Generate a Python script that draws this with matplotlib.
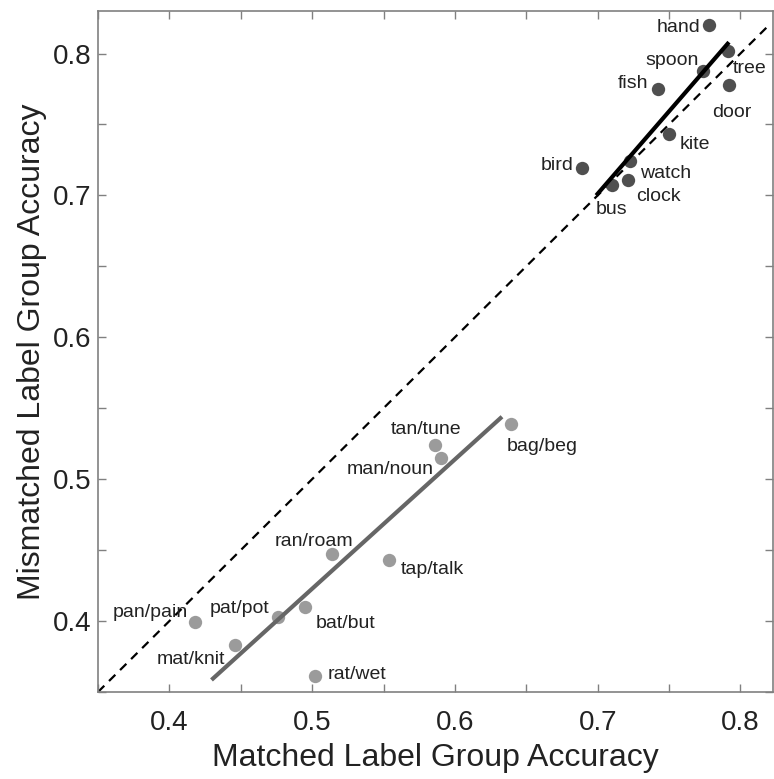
import matplotlib
matplotlib.use("Agg")
import matplotlib.pyplot as plt
from matplotlib.ticker import MultipleLocator

plt.rcParams['font.family'] = ['Liberation Sans', 'DejaVu Sans']

# Dark (matched, high accuracy) items
dark_labels = ["hand", "tree", "spoon", "fish", "door", "kite", "bird", "watch", "bus", "clock"]
dark_x = [0.778, 0.791, 0.774, 0.742, 0.792, 0.750, 0.689, 0.723, 0.710, 0.721]
dark_y = [0.820, 0.802, 0.788, 0.775, 0.778, 0.743, 0.719, 0.724, 0.707, 0.711]

# Light (pairs) items
light_labels = ["tan/tune", "man/noun", "bag/beg", "ran/roam", "tap/talk",
                "pat/pot", "bat/but", "pan/pain", "mat/knit", "rat/wet"]
light_x = [0.586, 0.590, 0.639, 0.514, 0.554, 0.476, 0.495, 0.418, 0.446, 0.502]
light_y = [0.524, 0.515, 0.539, 0.447, 0.443, 0.403, 0.410, 0.399, 0.383, 0.361]

# Fit lines (endpoints)
dark_fit_x = [0.699, 0.792]
dark_fit_y = [0.700, 0.808]
light_fit_x = [0.4295, 0.633]
light_fit_y = [0.3585, 0.544]

# identity line
ident = [0.35, 0.82]

# label offsets in points (dx, dy) and alignment
dark_off = {
    "hand": (-6, -2, "right"),
    "tree": (4, -13, "left"),
    "spoon": (-3, 7, "right"),
    "fish": (-7, 4, "right"),
    "door": (-12, -20, "left"),
    "kite": (8, -7, "left"),
    "bird": (-6, 2, "right"),
    "watch": (7, -9, "left"),
    "bus": (0, -17, "center"),
    "clock": (6, -12, "left"),
}
light_off = {
    "tan/tune": (19, 11, "right"),
    "man/noun": (-5, -8, "right"),
    "bag/beg": (-3, -16, "left"),
    "ran/roam": (15, 9, "right"),
    "tap/talk": (8, -7, "left"),
    "pat/pot": (-6, 6, "right"),
    "bat/but": (8, -12, "left"),
    "pan/pain": (-5, 7, "right"),
    "mat/knit": (-7, -10, "right"),
    "rat/wet": (9, 1, "left"),
}

fig = plt.figure(figsize=(7.74, 7.79), dpi=100)
ax = fig.add_axes([0.1266, 0.1117, 0.8724, 0.8742])

ax.plot(ident, ident, color="black", lw=1.6, ls=(0, (4, 3)), zorder=1)
ax.plot(light_fit_x, light_fit_y, color="#666666", lw=3.0, solid_capstyle="butt", zorder=3)
ax.plot(dark_fit_x, dark_fit_y, color="black", lw=3.0, solid_capstyle="butt", zorder=3)

ax.plot(light_x, light_y, "o", color="#9b9b9b", ms=9.6, mec="none", zorder=2)
ax.plot(dark_x, dark_y, "o", color="#4f4f4f", ms=9.6, mec="none", zorder=2)

for lab, x, y in zip(dark_labels, dark_x, dark_y):
    dx, dy, ha = dark_off[lab]
    ax.annotate(lab, (x, y), xytext=(dx, dy), textcoords="offset points",
                ha=ha, va="center", fontsize=14, color="#222222")
for lab, x, y in zip(light_labels, light_x, light_y):
    dx, dy, ha = light_off[lab]
    ax.annotate(lab, (x, y), xytext=(dx, dy), textcoords="offset points",
                ha=ha, va="center", fontsize=14, color="#222222")

ax.set_xlim(0.35, 0.823)
ax.set_ylim(0.35, 0.83)
ax.xaxis.set_minor_locator(MultipleLocator(0.05))
ax.yaxis.set_minor_locator(MultipleLocator(0.05))
ax.set_xticks([0.4, 0.5, 0.6, 0.7, 0.8])
ax.set_yticks([0.4, 0.5, 0.6, 0.7, 0.8])
ax.set_xticklabels(["0.4", "0.5", "0.6", "0.7", "0.8"])
ax.set_yticklabels(["0.4", "0.5", "0.6", "0.7", "0.8"])
ax.tick_params(which="both", direction="in", top=True, right=True, length=6,
               width=1, color="#808080", labelsize=20, labelcolor="#222222")
ax.tick_params(axis="x", which="major", pad=13)
ax.tick_params(axis="y", which="major", pad=5)
for s in ax.spines.values():
    s.set_color("#808080")
    s.set_linewidth(1.2)

ax.set_xlabel("Matched Label Group Accuracy", fontsize=23, color="#222222", labelpad=5)
ax.set_ylabel("Mismatched Label Group Accuracy", fontsize=23, color="#222222", labelpad=4)

fig.savefig("out.png", dpi=100)
